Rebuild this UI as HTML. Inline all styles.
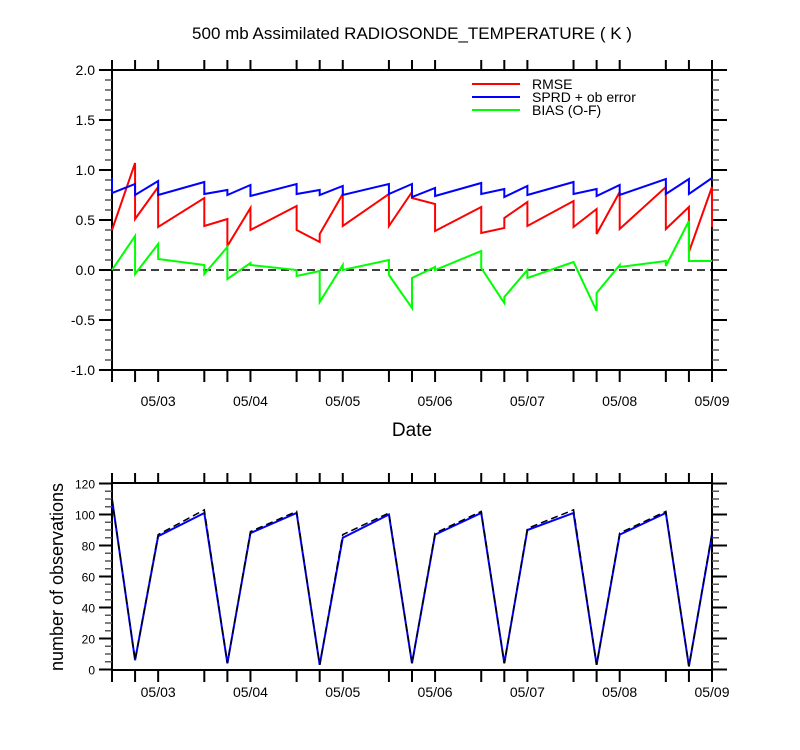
<!DOCTYPE html>
<html><head><meta charset="utf-8"><style>
body{margin:0;background:#fff}
svg{display:block;font-family:"Liberation Sans",sans-serif}
</style></head><body>
<svg id="c" width="800" height="750" xmlns="http://www.w3.org/2000/svg">
<text x="412" y="39" text-anchor="middle" font-size="17">500 mb Assimilated RADIOSONDE_TEMPERATURE ( K )</text>
<text x="412" y="436" text-anchor="middle" font-size="19">Date</text>
<text transform="translate(63,577) rotate(-90)" text-anchor="middle" font-size="18">number of observations</text>
<g>
<line x1="472" y1="84" x2="520" y2="84" stroke="#f00" stroke-width="2"/>
<text x="532" y="89" font-size="14">RMSE</text>
<line x1="472" y1="97" x2="520" y2="97" stroke="#00f" stroke-width="2"/>
<text x="532" y="102" font-size="14">SPRD + ob error</text>
<line x1="472" y1="110" x2="520" y2="110" stroke="#0f0" stroke-width="2"/>
<text x="532" y="115" font-size="14">BIAS (O-F)</text>
</g>
</svg>
<script>
const timeLabels=["","","05/03","","","05/04","","","05/05","","","05/06","","","05/07","","","05/08","","","05/09"];
const timeDays=[-0.5,-0.25,0,0.5,0.75,1,1.5,1.75,2,2.5,2.75,3,3.5,3.75,4,4.5,4.75,5,5.5,5.75,6];
const rmsePre=[0.40,1.07,0.83,0.72,0.51,0.62,0.64,0.28,0.76,0.76,0.78,0.66,0.63,0.42,0.68,0.69,0.61,0.78,0.83,0.63,0.83];
const rmsePost=[0.40,0.51,0.43,0.44,0.24,0.40,0.40,0.36,0.44,0.44,0.72,0.39,0.37,0.52,0.44,0.43,0.36,0.41,0.41,0.18,0.43];
const sprdPre=[0.92,0.86,0.89,0.88,0.80,0.85,0.86,0.80,0.84,0.86,0.86,0.82,0.87,0.81,0.84,0.88,0.81,0.85,0.91,0.91,0.92];
const sprdPost=[0.77,0.75,0.75,0.76,0.75,0.74,0.76,0.75,0.75,0.76,0.73,0.74,0.76,0.73,0.75,0.76,0.74,0.75,0.76,0.76,0.92];
const biasPre=[0.0,0.34,0.26,0.05,0.23,0.07,0.0,-0.01,0.05,0.10,-0.38,0.03,0.19,-0.33,0.0,0.08,-0.41,0.05,0.09,0.49,0.09];
const biasPost=[0.0,-0.04,0.11,-0.04,-0.09,0.05,-0.06,-0.32,0.0,-0.05,-0.08,0.0,0.02,-0.27,-0.08,0.08,-0.23,0.03,0.04,0.09,0.09];
const obsAssim=[110,6,86,101,4,88,101,3,85,100,4,87,101,4,90,101,3,87,101,2,87];
const obsTotal=[110,6,87,103,4,89,102,3,87,101,4,88,102,4,91,103,3,88,102,2,88];
const topYTicks=["-1.0","-0.5","0.0","0.5","1.0","1.5","2.0"];
const botYTicks=["0","20","40","60","80","100","120"];

const svg=document.getElementById('c');
const NS="http://www.w3.org/2000/svg";
function mk(tag,attrs,name){const e=document.createElementNS(NS,tag);for(const k in attrs)e.setAttribute(k,attrs[k]);


svg.appendChild(e);return e;}
const X0=112,X1=712;
const xs=d=>X0+(d-timeDays[0])/(timeDays[timeDays.length-1]-timeDays[0])*(X1-X0);
const yTop=v=>270-100*v;
const yBot=v=>669.5-v*186/120;

function sawPath(pre,post,ys){let d="";for(let i=0;i<pre.length;i++){const x=xs(timeDays[i]);d+=(i?"L":"M")+x+","+ys(pre[i])+"L"+x+","+ys(post[i]);}return d;}
function linePath(vals,ys){return vals.map((v,i)=>(i?"L":"M")+xs(timeDays[i])+","+ys(v)).join("");}

function axes(top,bot,ys,yTickLabels,yMin,yStep,minorStep,labelY,prefix,yfs){
 mk('rect',{x:X0,y:top,width:X1-X0,height:bot-top,fill:'none',stroke:'#000','stroke-width':2},prefix+'plot-frame');
 timeDays.forEach((d,i)=>{const x=xs(d);
  mk('line',{x1:x,y1:bot,x2:x,y2:bot+12,stroke:'#000','stroke-width':2},prefix+'x-tick');
  mk('line',{x1:x,y1:top,x2:x,y2:top-10,stroke:'#000','stroke-width':2},prefix+'x-tick-top');
  if(timeLabels[i]){const t=mk('text',{x:x,y:labelY,'text-anchor':'middle','font-size':14},prefix+'x-tick-label');t.textContent=timeLabels[i];}
 });
 const yMax=yMin+yStep*(yTickLabels.length-1);
 for(let v=yMin;v<=yMax+1e-9;v+=minorStep){const y=ys(v);
  mk('line',{x1:X0-7,y1:y,x2:X0,y2:y,stroke:'#555','stroke-width':1.5},prefix+'y-minor-tick');
  mk('line',{x1:X1,y1:y,x2:X1+7,y2:y,stroke:'#555','stroke-width':1.5},prefix+'y-minor-tick-right');}
 yTickLabels.forEach((lab,i)=>{const y=ys(yMin+i*yStep);
  mk('line',{x1:X0-13,y1:y,x2:X0,y2:y,stroke:'#000','stroke-width':2},prefix+'y-tick');
  mk('line',{x1:X1,y1:y,x2:X1+15,y2:y,stroke:'#000','stroke-width':2},prefix+'y-tick-right');
  const t=mk('text',{x:X0-17,y:y+5,'text-anchor':'end','font-size':yfs},prefix+'y-tick-label');t.textContent=lab;});
}
axes(70,370,yTop,topYTicks,-1,0.5,0.1,406,'top-',14);
mk('line',{x1:X0,y1:yTop(0),x2:X1,y2:yTop(0),stroke:'#000','stroke-width':1.5,'stroke-dasharray':'8,5'},'zero-line');
mk('path',{d:sawPath(rmsePre,rmsePost,yTop),fill:'none',stroke:'#f00','stroke-width':2},'rmse-line');
mk('path',{d:sawPath(sprdPre,sprdPost,yTop),fill:'none',stroke:'#00f','stroke-width':2},'sprd-line');
mk('path',{d:sawPath(biasPre,biasPost,yTop),fill:'none',stroke:'#0f0','stroke-width':2},'bias-line');

axes(483,670,yBot,botYTicks,0,20,5,697,'bottom-',12);
mk('path',{d:linePath(obsAssim,yBot),fill:'none',stroke:'#00f','stroke-width':2},'obs-assimilated-line');
mk('path',{d:linePath(obsTotal,yBot),fill:'none',stroke:'#000','stroke-width':1.5,'stroke-dasharray':'7,4'},'obs-total-line');
</script>
</body></html>
